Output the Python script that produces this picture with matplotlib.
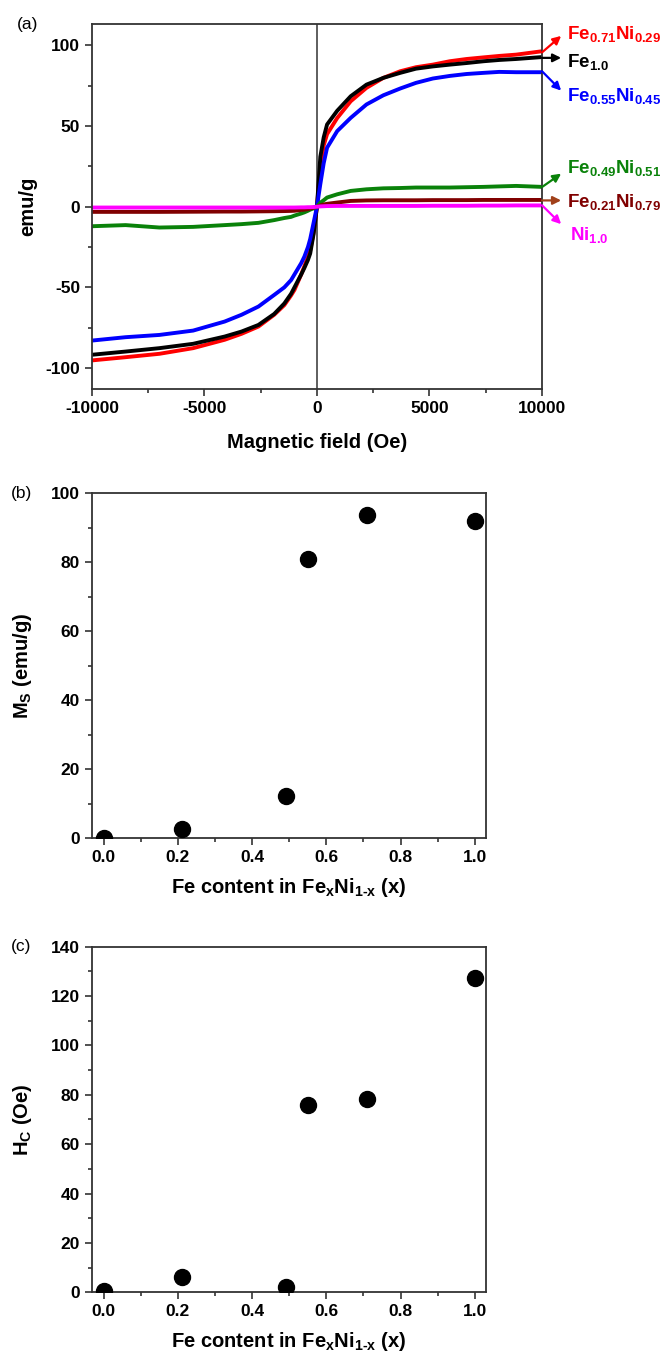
import numpy as np
import matplotlib.pyplot as plt
from matplotlib.ticker import MultipleLocator

plt.rcParams['font.family'] = ['Liberation Sans', 'DejaVu Sans']
plt.rcParams['font.weight'] = 'bold'
plt.rcParams['axes.unicode_minus'] = False
plt.rcParams['mathtext.fontset'] = 'custom'
plt.rcParams['mathtext.rm'] = 'Liberation Sans:bold'
plt.rcParams['mathtext.bf'] = 'Liberation Sans:bold'
plt.rcParams['mathtext.it'] = 'Liberation Sans:bold'

# magnetic field grid (Oe)
field = [-10000, -8500, -7000, -5500, -4100, -3350, -2600, -1900, -1450, -1150, -1000,
         -700, -560, -400, -300, -150, 0, 150, 300, 450, 900, 1500, 2200, 2950, 3700,
         4400, 5150, 5900, 6650, 7400, 8100, 8850, 10000]

# magnetization (emu/g) of each sample
m_fe10 = [-91.8, -89.8, -87.7, -85.0, -80.5, -77.4, -73.3, -66.5, -60.0, -54.0, -50.0,
          -42.0, -38.0, -33.0, -29.0, -17.0, 0.0, 31.0, 43.0, 51.0, 59.5, 68.5, 75.7, 79.9,
          83.0, 85.6, 87.0, 88.1, 89.1, 90.2, 91.0, 91.6, 92.8]
m_fe71 = [-95.3, -93.3, -91.2, -87.7, -82.5, -78.8, -74.3, -67.0, -61.0, -55.0, -51.6,
          -42.0, -37.0, -31.0, -27.0, -16.0, 0.0, 25.0, 38.0, 45.0, 55.0, 65.4, 73.7, 79.9,
          84.0, 86.5, 88.1, 90.2, 91.6, 92.6, 93.5, 94.3, 96.4]
m_fe55 = [-83.0, -80.9, -79.5, -76.8, -71.2, -67.0, -61.9, -54.7, -50.0, -45.5, -42.0,
          -35.0, -31.0, -25.0, -20.0, -10.0, 0.0, 14.0, 27.0, 36.6, 46.9, 55.1, 63.4, 69.1,
          73.3, 76.8, 79.5, 81.1, 82.3, 83.0, 83.6, 83.4, 83.4]
m_fe49 = [-12.1, -11.4, -12.9, -12.5, -11.4, -10.8, -10.0, -8.3, -7.0, -6.3, -5.5,
          -4.2, -3.5, -2.5, -1.8, -1.0, 0.0, 2.5, 4.0, 5.7, 7.7, 9.8, 10.8, 11.4,
          11.6, 11.9, 11.9, 11.9, 12.1, 12.3, 12.6, 12.9, 12.3]
m_fe21 = [-3.2, -3.2, -3.2, -3.1, -3.0, -3.0, -2.9, -2.8, -2.7, -2.6, -2.5,
          -2.0, -1.8, -1.5, -1.1, -0.6, 0.0, 0.8, 1.4, 1.8, 2.6, 3.6, 3.9, 4.0,
          4.0, 4.0, 4.1, 4.1, 4.1, 4.2, 4.2, 4.2, 4.2]
m_ni10 = [-0.5, -0.5, -0.5, -0.5, -0.5, -0.5, -0.5, -0.5, -0.5, -0.5, -0.5,
          -0.4, -0.4, -0.3, -0.3, -0.2, 0.0, 0.2, 0.3, 0.4, 0.5, 0.5, 0.5, 0.5,
          0.5, 0.5, 0.6, 0.6, 0.6, 0.7, 0.7, 0.8, 0.8]

# panels (b) and (c)
fe_content = [0.0, 0.21, 0.49, 0.55, 0.71, 1.0]
ms_values = [0.2, 2.6, 12.3, 80.9, 93.8, 91.9]
hc_values = [0.5, 6.1, 2.3, 75.8, 78.5, 127.4]

curve_names = [r'$\mathbf{Fe_{0.71}Ni_{0.29}}$', r'$\mathbf{Fe_{1.0}}$',
               r'$\mathbf{Fe_{0.55}Ni_{0.45}}$', r'$\mathbf{Fe_{0.49}Ni_{0.51}}$',
               r'$\mathbf{Fe_{0.21}Ni_{0.79}}$', r'$\mathbf{Ni_{1.0}}$']
curve_colors = ['#ff0000', '#000000', '#0000ff', '#0a820a', '#800000', '#ff00ff']
arrow_colors = ['#ff0000', '#000000', '#0000ff', '#0a820a', '#a0401a', '#ff00ff']

SPINE = '#333333'


def style_axes(ax):
    """
    common look of the three panels
    """
    for s in ax.spines.values():
        s.set_color(SPINE)
        s.set_linewidth(1.3)
    ax.tick_params(which='major', direction='out', length=5, width=1.2,
                   labelsize=12.5, color=SPINE)
    ax.tick_params(which='minor', direction='out', length=3, width=1.2, color=SPINE)
    ax.tick_params(top=False, right=False, which='both')
    for lab in ax.get_xticklabels() + ax.get_yticklabels():
        lab.set_fontweight('bold')


def panel_a(fig):
    ax = fig.add_axes([0.139, 0.714, 0.681, 0.268])
    # draw order: back to front
    order = [4, 3, 2, 1, 0, 5]
    series = [m_fe71, m_fe10, m_fe55, m_fe49, m_fe21, m_ni10]
    ax.axvline(0, color=SPINE, lw=1.1, zorder=1)
    for i in order:
        ax.plot(field, series[i], color=curve_colors[i], lw=2.8, zorder=2 + i * 0.1)
    ax.set_xlim(-10000, 10000)
    ax.set_ylim(-113, 113)
    ax.xaxis.set_major_locator(MultipleLocator(5000))
    ax.xaxis.set_minor_locator(MultipleLocator(2500))
    ax.yaxis.set_major_locator(MultipleLocator(50))
    ax.yaxis.set_minor_locator(MultipleLocator(25))
    ax.set_xlabel('Magnetic field (Oe)', fontsize=14.5, fontweight='bold')
    ax.set_ylabel('emu/g', fontsize=14.5, fontweight='bold')
    ax.yaxis.set_label_coords(-0.122, 0.5)
    ax.xaxis.set_label_coords(0.5, -0.12)
    style_axes(ax)

    # arrows from the curve ends to the names
    tails = [95.7, 92.3, 84.0, 12.2, 3.9, 0.9]
    heads = [105.9, 92.3, 72.0, 20.5, 3.9, -10.8]
    text_y = [107.0, 90.0, 68.5, 23.8, 2.8, -17.6]
    for i in range(6):
        ax.annotate('', xy=(10850, heads[i]), xytext=(10000, tails[i]),
                    xycoords='data', annotation_clip=False,
                    arrowprops=dict(arrowstyle='-|>', color=arrow_colors[i], lw=1.6,
                                    mutation_scale=12, shrinkA=0, shrinkB=0))
        tx = 11100 if i != 5 else 11250
        ax.text(tx, text_y[i], curve_names[i], color=curve_colors[i], fontsize=13.5,
                va='center', ha='left', clip_on=False)
    fig.text(0.041, 0.982, '(a)', fontsize=12.5, fontweight='normal', ha='center', va='center')


def panel_scatter(fig, rect, values, ylim, ystep, ylabel, tag):
    ax = fig.add_axes(rect)
    ax.plot(fe_content, values, 'o', color='black', ms=11.5, zorder=3)
    ax.set_xlim(-0.032, 1.03)
    ax.set_ylim(0, ylim)
    ax.xaxis.set_major_locator(MultipleLocator(0.2))
    ax.xaxis.set_minor_locator(MultipleLocator(0.1))
    ax.yaxis.set_major_locator(MultipleLocator(ystep))
    ax.yaxis.set_minor_locator(MultipleLocator(ystep / 2))
    ax.xaxis.set_major_formatter(plt.FuncFormatter(lambda v, p: '%.1f' % v))
    ax.set_xlabel(r'Fe content in Fe$_\mathbf{x}$Ni$_\mathbf{1\text{-}x}$ (x)',
                  fontsize=14.5, fontweight='bold')
    ax.set_ylabel(ylabel, fontsize=14.5, fontweight='bold')
    ax.yaxis.set_label_coords(-0.146, 0.5)
    ax.xaxis.set_label_coords(0.5, -0.11)
    style_axes(ax)
    fig.text(0.032, rect[1] + rect[3], tag, fontsize=12.5, fontweight='normal',
             ha='center', va='center')
    return ax


def __main__():
    fig = plt.figure(figsize=(6.61, 13.6), dpi=100)
    panel_a(fig)
    panel_scatter(fig, [0.139, 0.3836, 0.596, 0.2537], ms_values, 100, 20,
                  r'M$_\mathbf{S}$ (emu/g)', '(b)')
    panel_scatter(fig, [0.139, 0.0498, 0.596, 0.2541], hc_values, 140, 20,
                  r'H$_\mathbf{C}$ (Oe)', '(c)')
    fig.savefig('out.png', dpi=100)


__main__()
